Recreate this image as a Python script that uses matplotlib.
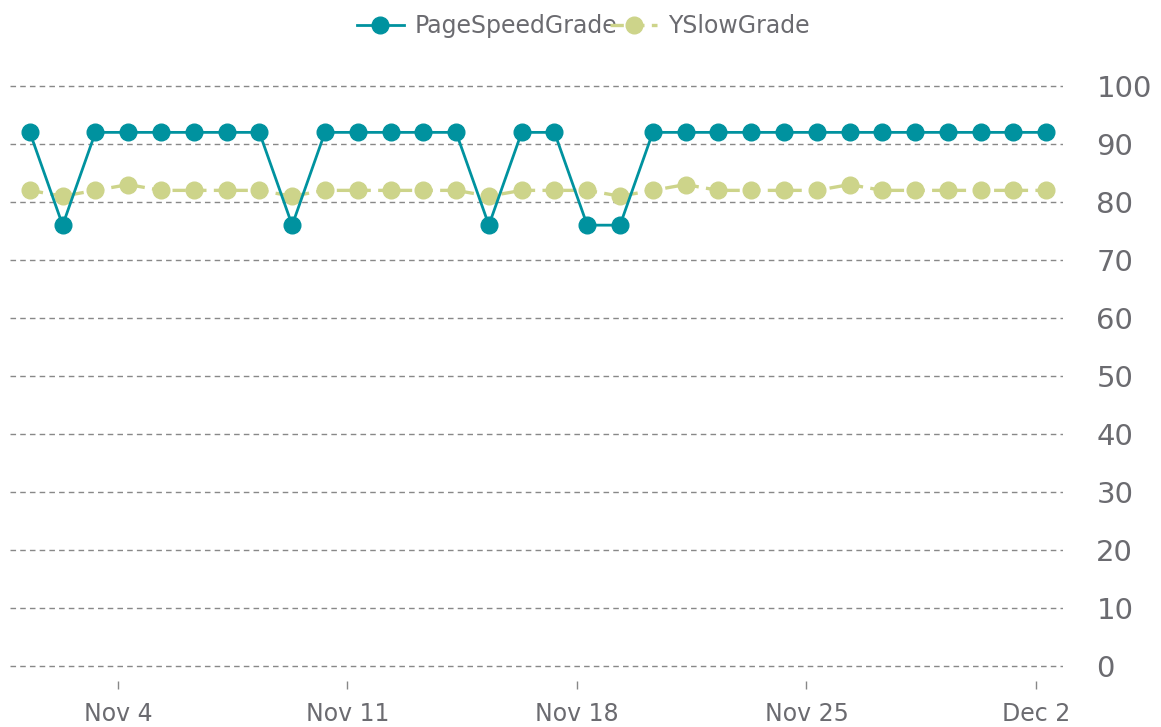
import datetime as dt
import matplotlib
matplotlib.use("Agg")
import matplotlib.pyplot as plt
import matplotlib.dates as mdates

# one sample a day, early morning
start = dt.datetime(2014, 11, 1, 7, 30)
days = [start + dt.timedelta(days=i) for i in range(32)]

pagespeed = [92, 76, 92, 92, 92, 92, 92, 92, 76, 92, 92, 92, 92, 92, 76, 92,
             92, 76, 76, 92, 92, 92, 92, 92, 92, 92, 92, 92, 92, 92, 92, 92]
yslow = [82, 81, 82, 83, 82, 82, 82, 82, 81, 82, 82, 82, 82, 82, 81, 82,
         82, 82, 81, 82, 83, 82, 82, 82, 82, 83, 82, 82, 82, 82, 82, 82]

teal = "#00929f"
green = "#cdd48a"
txt = "#6b6b70"

fig = plt.figure(figsize=(11.61, 7.27), dpi=100)
ax = fig.add_axes([10/1161, 1 - 681/727, 1053/1161, (681 - 68)/727])

ax.plot(days, yslow, "--", color=green, lw=2.4, dashes=(4, 2.2),
        marker="o", ms=12, mec=green, label="YSlowGrade", zorder=3)
ax.plot(days, pagespeed, "-", color=teal, lw=2,
        marker="o", ms=12, mec=teal, label="PageSpeedGrade", zorder=4)

x0 = mdates.date2num(dt.datetime(2014, 11, 4)) - 108/32.79
x1 = mdates.date2num(dt.datetime(2014, 12, 2)) + 27/32.79
ax.set_xlim(x0, x1)
ax.set_ylim(-2.6, 103.1)

ax.set_yticks(range(0, 101, 10))
ax.yaxis.tick_right()
ax.grid(axis="y", color="#888888", ls=(0, (4, 3)), lw=1)
ax.grid(axis="x", visible=False)
ax.set_axisbelow(True)
for s in ax.spines.values():
    s.set_visible(False)

ax.xaxis.set_major_locator(mdates.WeekdayLocator(byweekday=mdates.TU))
ax.xaxis.set_major_formatter(mdates.DateFormatter("%b %-d"))

ax.tick_params(axis="y", length=0, pad=24, labelsize=21, labelcolor=txt)
ax.tick_params(axis="x", length=6, width=1, color="#888888", pad=9,
               labelsize=17, labelcolor=txt)
for lab in ax.get_yticklabels():
    lab.set_horizontalalignment("left")

h, l = ax.get_legend_handles_labels()
leg = fig.legend(h[::-1], l[::-1], loc="upper center", bbox_to_anchor=(583/1161, 1.0),
                 ncol=2, frameon=False, fontsize=17, handlelength=2.0,
                 columnspacing=-0.3, handletextpad=0.45, borderaxespad=0.2)
for t in leg.get_texts():
    t.set_color(txt)

fig.savefig("out.png", dpi=100)
